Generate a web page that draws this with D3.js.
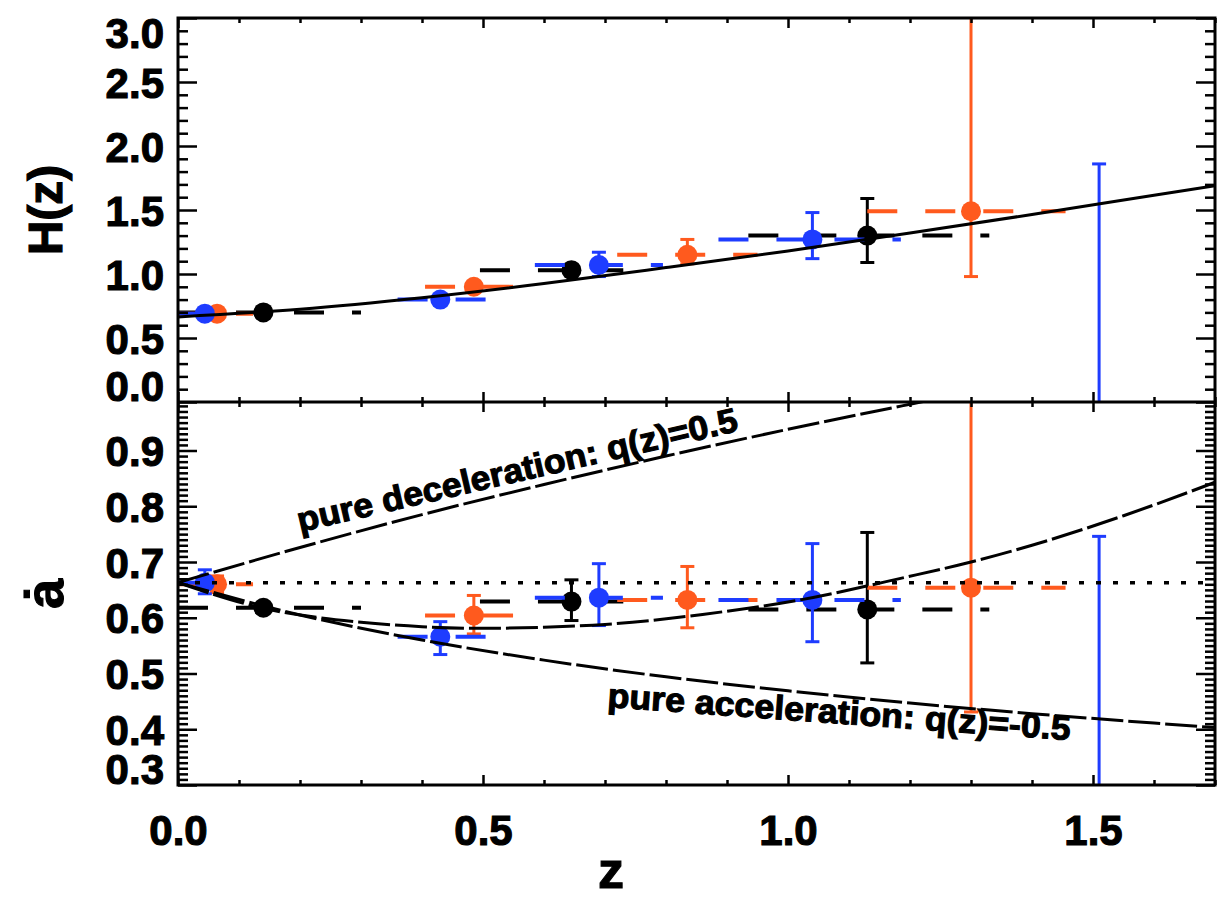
<!DOCTYPE html>
<html>
<head>
<meta charset="utf-8">
<script src="https://cdn.jsdelivr.net/npm/d3@7"></script>
<style>
  body { margin: 0; background: #fff; }
  svg { display: block; }
  text { font-family: "Liberation Sans", Arial, Helvetica, sans-serif; font-weight: bold; fill: #000; stroke: #000; stroke-width: 1.1px; }
</style>
</head>
<body>
<svg id="chart" width="1219" height="901"></svg>
<script>
// ---- axis ticks ----
const zMajor = [0, 0.5, 1.0, 1.5];
const zMajorLabels = ["0.0", "0.5", "1.0", "1.5"];
const hMajor = [0, 0.5, 1.0, 1.5, 2.0, 2.5, 3.0];
const hMajorLabels = ["0.0", "0.5", "1.0", "1.5", "2.0", "2.5", "3.0"];
const adotMajor = [0.3, 0.4, 0.5, 0.6, 0.7, 0.8, 0.9];
const adotMajorLabels = ["0.3", "0.4", "0.5", "0.6", "0.7", "0.8", "0.9"];

// ---- black sample ----
const zBlack      = [0.14, 0.645, 1.13];
const binLoBlack  = [0.0, 0.495, 0.935];
const binHiBlack  = [0.30, 0.73, 1.33];
const hBlack      = [0.70, 1.03, 1.30];
const hLoBlack    = [0.68, 1.00, 1.09];
const hHiBlack    = [0.72, 1.06, 1.59];
const adotBlack   = [0.618, 0.629, 0.615];
const adotLoBlack = [0.610, 0.595, 0.519];
const adotHiBlack = [0.626, 0.668, 0.753];

// ---- orange sample ----
const zOrange      = [0.064, 0.485, 0.835, 1.30];
const binLoOrange  = [0.0, 0.405, 0.72, 1.13];
const binHiOrange  = [0.123, 0.56, 0.95, 1.455];
const hOrange      = [0.69, 0.90, 1.15, 1.49];
const hLoOrange    = [0.67, 0.87, 1.08, 0.98];
const hHiOrange    = [0.71, 0.93, 1.27, 3.10];
const adotOrange   = [0.660, 0.604, 0.632, 0.654];
const adotLoOrange = [0.645, 0.571, 0.582, 0.431];
const adotHiOrange = [0.675, 0.640, 0.692, 1.02];

// ---- blue sample (last bin: central value off scale) ----
const zBlue      = [0.044, 0.43, 0.69, 1.04, 1.51];
const binLoBlue  = [0.0, 0.36, 0.585, 0.886, null];
const binHiBlue  = [0.085, 0.507, 0.795, 1.185, null];
const hBlue      = [0.69, 0.80, 1.07, 1.27, null];
const hLoBlue    = [0.67, 0.78, 0.98, 1.12, -0.20];
const hHiBlue    = [0.71, 0.82, 1.17, 1.48, 1.86];
const adotBlue   = [0.663, 0.566, 0.636, 0.632, null];
const adotLoBlue = [0.643, 0.534, 0.586, 0.557, 0.25];
const adotHiBlue = [0.686, 0.593, 0.697, 0.733, 0.746];

// ---- model curves ----
const zModelH = [0, 0.2, 0.4, 0.6, 0.8, 1.0, 1.2, 1.4, 1.6, 1.7];
const hModel  = [0.665, 0.725, 0.815, 0.925, 1.05, 1.18, 1.32, 1.465, 1.615, 1.69];

const zModelA = [0, 0.14, 0.3, 0.4, 0.5, 0.6, 0.7, 0.86, 1.02, 1.19, 1.30, 1.40, 1.55, 1.70];
const adotModel = [0.663, 0.617, 0.592, 0.584, 0.581, 0.583, 0.588, 0.606, 0.632, 0.672, 0.700, 0.730, 0.783, 0.843];

const zDecel    = [0, 0.2, 0.4, 0.6, 0.8, 1.0, 1.2, 1.3];
const adotDecel = [0.663, 0.726, 0.785, 0.839, 0.890, 0.938, 0.983, 1.005];

const zAccel    = [0, 0.2, 0.4, 0.6, 0.8, 1.0, 1.2, 1.4, 1.6, 1.7];
const adotAccel = [0.663, 0.605, 0.560, 0.524, 0.494, 0.469, 0.447, 0.428, 0.411, 0.403];

const adotToday = 0.663;

// ---- layout ----
const svg = d3.select("#chart");
const fLeft = 178, fRight = 1215, fTop = 18, fMid = 402, fBottom = 785;
const colors = { black: "#000000", orange: "#ff5a1e", blue: "#1e3cff" };

const x = d3.scaleLinear().domain([0, 1.7]).range([fLeft, fRight]);
const yH = d3.scaleLinear().domain([0, 3.0]).range([fMid, fTop]);
const yA = d3.scaleLinear().domain([0.3, 0.987]).range([fBottom, fMid]);

const defs = svg.append("defs");
defs.append("clipPath").attr("id", "clipTop").append("rect")
  .attr("x", fLeft).attr("y", fTop).attr("width", fRight - fLeft).attr("height", fMid - fTop);
defs.append("clipPath").attr("id", "clipBot").append("rect")
  .attr("x", fLeft).attr("y", fMid).attr("width", fRight - fLeft).attr("height", fBottom - fMid);

function buildSet(color, z, lo, hi, hv, hl, hh, av, al, ah) {
  return z.map((d, i) => ({
    color, z: d, binLo: lo[i], binHi: hi[i],
    h: hv[i], hLo: hl[i], hHi: hh[i],
    a: av[i], aLo: al[i], aHi: ah[i]
  }));
}
const sets = [
  buildSet("black", zBlack, binLoBlack, binHiBlack, hBlack, hLoBlack, hHiBlack, adotBlack, adotLoBlack, adotHiBlack),
  buildSet("orange", zOrange, binLoOrange, binHiOrange, hOrange, hLoOrange, hHiOrange, adotOrange, adotLoOrange, adotHiOrange),
  buildSet("blue", zBlue, binLoBlue, binHiBlue, hBlue, hLoBlue, hHiBlue, adotBlue, adotLoBlue, adotHiBlue)
];

function drawPanel(clipId, y, key, keyLo, keyHi) {
  const g = svg.append("g").attr("clip-path", `url(#${clipId})`);
  sets.forEach(set => {
    const sg = g.append("g");
    const col = colors[set[0].color];
    // redshift bin extent, dashed
    sg.selectAll("line.bin").data(set.filter(d => d[key] != null && d.binLo != null))
      .join("line").attr("class", "bin")
      .attr("x1", d => x(d.binLo)).attr("x2", d => x(d.binHi))
      .attr("y1", d => y(d[key])).attr("y2", d => y(d[key]))
      .attr("stroke", col).attr("stroke-width", 4).attr("stroke-dasharray", "30 28");
    // vertical error bars with caps
    sg.selectAll("line.err").data(set).join("line").attr("class", "err")
      .attr("x1", d => x(d.z)).attr("x2", d => x(d.z))
      .attr("y1", d => y(d[keyLo])).attr("y2", d => y(d[keyHi]))
      .attr("stroke", col).attr("stroke-width", 3);
    [keyLo, keyHi].forEach(k => {
      sg.selectAll("line.cap" + k).data(set).join("line").attr("class", "cap" + k)
        .attr("x1", d => x(d.z) - 7).attr("x2", d => x(d.z) + 7)
        .attr("y1", d => y(d[k])).attr("y2", d => y(d[k]))
        .attr("stroke", col).attr("stroke-width", 3);
    });
    sg.selectAll("circle").data(set.filter(d => d[key] != null)).join("circle")
      .attr("cx", d => x(d.z)).attr("cy", d => y(d[key])).attr("r", 10)
      .attr("fill", col);
  });
  return g;
}

// ---- upper panel: H(z) ----
const gTop = drawPanel("clipTop", yH, "h", "hLo", "hHi");
const lineH = d3.line().x(d => x(d[0])).y(d => yH(d[1])).curve(d3.curveMonotoneX);
gTop.append("path").attr("d", lineH(d3.zip(zModelH, hModel)))
  .attr("fill", "none").attr("stroke", "#000").attr("stroke-width", 3);

// ---- lower panel: a-dot ----
const gBot = drawPanel("clipBot", yA, "a", "aLo", "aHi");
const lineA = d3.line().x(d => x(d[0])).y(d => yA(d[1])).curve(d3.curveMonotoneX);
[[zModelA, adotModel], [zDecel, adotDecel], [zAccel, adotAccel]].forEach(([zz, aa]) => {
  gBot.append("path").attr("d", lineA(d3.zip(zz, aa)))
    .attr("fill", "none").attr("stroke", "#000").attr("stroke-width", 3)
    .attr("stroke-dasharray", "32 5");
});
gBot.append("line")
  .attr("x1", x(0)).attr("x2", x(1.7)).attr("y1", yA(adotToday)).attr("y2", yA(adotToday))
  .attr("stroke", "#000").attr("stroke-width", 3.5).attr("stroke-dasharray", "5 12");

// curve annotations
svg.append("text")
  .attr("transform", `translate(300,532) rotate(-13)`)
  .attr("font-size", 34).attr("textLength", 451).attr("lengthAdjust", "spacingAndGlyphs")
  .text("pure deceleration: q(z)=0.5");
svg.append("text")
  .attr("transform", `translate(607,707) rotate(4.1)`)
  .attr("font-size", 34).attr("textLength", 464).attr("lengthAdjust", "spacingAndGlyphs")
  .text("pure acceleration: q(z)=-0.5");

// ---- axes ----
function styleAxis(g) {
  g.select(".domain").remove();
  g.selectAll(".tick line").attr("stroke", "#000").attr("stroke-width", 2.5);
  g.selectAll(".tick text").attr("font-size", 42).attr("fill", "#000");
}
const zMinor = d3.range(1, 18).map(i => i / 10).filter(v => !zMajor.some(m => Math.abs(m - v) < 1e-6));
const hMinor = d3.range(1, 30).map(i => i / 10).filter(v => !hMajor.some(m => Math.abs(m - v) < 1e-6));
const aMinor = d3.range(31, 99).map(i => i / 100).filter(v => !adotMajor.some(m => Math.abs(m - v) < 1e-6));

// x ticks on every horizontal edge, pointing into the panels
[[fTop, d3.axisTop], [fMid, d3.axisBottom], [fMid, d3.axisTop], [fBottom, d3.axisBottom]].forEach(([yy, ax]) => {
  svg.append("g").attr("transform", `translate(0,${yy})`)
    .call(ax(x).tickValues(zMajor).tickSize(-10).tickFormat("")).call(styleAxis);
  svg.append("g").attr("transform", `translate(0,${yy})`)
    .call(ax(x).tickValues(zMinor).tickSize(-5).tickFormat("")).call(styleAxis);
});
// x tick labels below the lower panel
const xLab = svg.append("g").attr("transform", `translate(0,${fBottom})`)
  .call(d3.axisBottom(x).tickValues(zMajor).tickSize(0).tickPadding(0)
    .tickFormat((d, i) => zMajorLabels[i])).call(styleAxis);
xLab.selectAll(".tick text").attr("y", 60).attr("dy", 0);

function yAxes(scale, major, labels, minor, y0, y1) {
  const gl = svg.append("g").attr("transform", `translate(${fLeft},0)`)
    .call(d3.axisLeft(scale).tickValues(major).tickSize(-19).tickPadding(14)
      .tickFormat((d, i) => labels[i])).call(styleAxis);
  // keep end labels inside their own panel
  gl.selectAll(".tick text").attr("dy", "0.36em").each(function (d) {
    const ty = scale(d);
    let off = 0;
    if (ty - y0 < 14) off = 14 - (ty - y0);
    if (y1 - ty < 17) off = -(17 - (y1 - ty));
    d3.select(this).attr("y", off);
  });
  svg.append("g").attr("transform", `translate(${fLeft},0)`)
    .call(d3.axisLeft(scale).tickValues(minor).tickSize(-10).tickFormat("")).call(styleAxis);
  svg.append("g").attr("transform", `translate(${fRight},0)`)
    .call(d3.axisRight(scale).tickValues(major).tickSize(-19).tickFormat("")).call(styleAxis);
  svg.append("g").attr("transform", `translate(${fRight},0)`)
    .call(d3.axisRight(scale).tickValues(minor).tickSize(-10).tickFormat("")).call(styleAxis);
}
yAxes(yH, hMajor, hMajorLabels, hMinor, fTop, fMid);
yAxes(yA, adotMajor, adotMajorLabels, aMinor, fMid, fBottom);

// frames
svg.append("rect").attr("x", fLeft).attr("y", fTop).attr("width", fRight - fLeft).attr("height", fBottom - fTop)
  .attr("fill", "none").attr("stroke", "#000").attr("stroke-width", 3);
svg.append("line").attr("x1", fLeft).attr("x2", fRight).attr("y1", fMid).attr("y2", fMid)
  .attr("stroke", "#000").attr("stroke-width", 3);

// axis titles
svg.append("text").attr("transform", "translate(62,210) rotate(-90)")
  .attr("text-anchor", "middle").attr("font-size", 48).text("H(z)");
svg.append("text").attr("transform", "translate(63,594) rotate(-90)")
  .attr("text-anchor", "middle").attr("font-size", 54).text("ȧ");
svg.append("text").attr("x", 611).attr("y", 888)
  .attr("text-anchor", "middle").attr("font-size", 52).text("z");
</script>
</body>
</html>
